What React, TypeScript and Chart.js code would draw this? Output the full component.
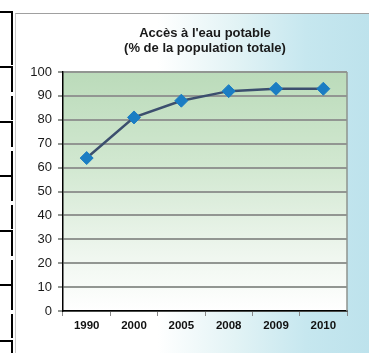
import React, { useEffect, useRef } from "react";
import { Chart, registerables } from "chart.js";

Chart.register(...registerables);

const years = ["1990", "2000", "2005", "2008", "2009", "2010"];
const accessPct = [64, 81, 88, 92, 93, 93];
const titleLines = ["Accès à l'eau potable", "(% de la population totale)"];
const yMin = 0;
const yMax = 100;
const yStep = 10;

const W = 369;
const H = 353;

const plotBg = {
  id: "plotBg",
  beforeDraw(chart: any) {
    const { ctx, chartArea } = chart;
    if (!chartArea) return;
    const { left, top, right, bottom } = chartArea;
    const g = ctx.createLinearGradient(0, top, 0, bottom);
    g.addColorStop(0, "#bbdbba");
    g.addColorStop(0.4, "#d2e8d1");
    g.addColorStop(0.78, "#f0f7f0");
    g.addColorStop(1, "#ffffff");
    ctx.save();
    ctx.fillStyle = g;
    ctx.fillRect(left, top, right - left, bottom - top);
    ctx.restore();
  },
  afterDraw(chart: any) {
    const { ctx, chartArea } = chart;
    const { top, right, bottom } = chartArea;
    ctx.save();
    ctx.strokeStyle = "#8e938e";
    ctx.lineWidth = 1.5;
    ctx.beginPath();
    ctx.moveTo(right, top);
    ctx.lineTo(right, bottom);
    ctx.stroke();
    ctx.restore();
  },
};

const hLines = [12, 67, 122, 176, 231, 285, 341];

export default function App() {
  const ref = useRef<HTMLCanvasElement | null>(null);

  useEffect(() => {
    if (!ref.current) return;
    const chart = new Chart(ref.current, {
      type: "line",
      data: {
        labels: years,
        datasets: [
          {
            data: accessPct,
            borderColor: "#3c4f6e",
            borderWidth: 2.5,
            tension: 0,
            pointStyle: "rectRot",
            pointRadius: 6.5,
            pointBackgroundColor: "#1b7dc3",
            pointBorderColor: "#1b7dc3",
            pointBorderWidth: 1,
          },
        ],
      },
      options: {
        responsive: false,
        animation: false,
        layout: { padding: { left: 0, right: 22, top: 0, bottom: 0 } },
        plugins: {
          legend: { display: false },
          tooltip: { enabled: false },
          title: {
            display: true,
            fullSize: false,
            text: titleLines,
            color: "#1a1a1a",
            font: { family: "'Liberation Sans', Arial, sans-serif", size: 13, weight: "bold", lineHeight: 1.12 },
            padding: { top: 26.3, bottom: 16.6 },
          },
        },
        scales: {
          x: {
            offset: true,
            afterFit: (s: any) => {
              s.height = 42;
            },
            grid: {
              display: true,
              drawOnChartArea: false,
              drawTicks: true,
              tickLength: 5,
              color: "#888888",
              offset: true,
            },
            border: { display: true, color: "#000000", width: 1.5 },
            ticks: {
              color: "#111111",
              padding: 3,
              font: { family: "'Liberation Sans', Arial, sans-serif", size: 11.5, weight: "bold" },
            },
          },
          y: {
            min: yMin,
            max: yMax,
            afterFit: (s: any) => {
              s.width = 63;
            },
            grid: {
              color: "#929692",
              lineWidth: 2,
              drawTicks: true,
              tickLength: 5,
            },
            border: { display: true, color: "#000000", width: 1.5 },
            ticks: {
              stepSize: yStep,
              color: "#1a1a1a",
              padding: 6,
              font: { family: "'Liberation Sans', Arial, sans-serif", size: 13 },
            },
          },
        },
      },
      plugins: [plotBg],
    });
    return () => chart.destroy();
  }, []);

  return (
    <div style={{ position: "absolute", left: 0, top: 0, width: W, height: H, background: "#ffffff", overflow: "hidden" }}>
      {hLines.map((y, i) => (
        <div key={"h" + i} style={{ position: "absolute", left: 0, top: y - 1, width: 12, height: 1.5, background: "#000" }} />
      ))}
      {hLines.map((y, i) => (
        <div key={"v" + i} style={{ position: "absolute", left: 11, top: y - 12 < 0 ? 0 : y - 1, width: 1.5, height: i === 0 ? 36 : 26, background: "#000" }} />
      ))}
      {hLines.map((y, i) => (
        <div key={"w" + i} style={{ position: "absolute", left: 11, top: y + 29, width: 1.5, height: 24, background: "#000" }} />
      ))}
      <div
        style={{
          position: "absolute",
          left: 15,
          top: 13,
          width: W - 15,
          height: H - 13,
          borderTop: "1.5px solid #a0a0a0",
          borderLeft: "1.5px solid #c8c8c8",
          background: "linear-gradient(to right, #ffffff 0%, #ffffff 40%, #e2f3f5 62%, #c6e7ef 82%, #bde2ec 100%)",
        }}
      />
      <canvas ref={ref} width={W} height={H} style={{ position: "absolute", left: 0, top: 0, width: W, height: H }} />
    </div>
  );
}
